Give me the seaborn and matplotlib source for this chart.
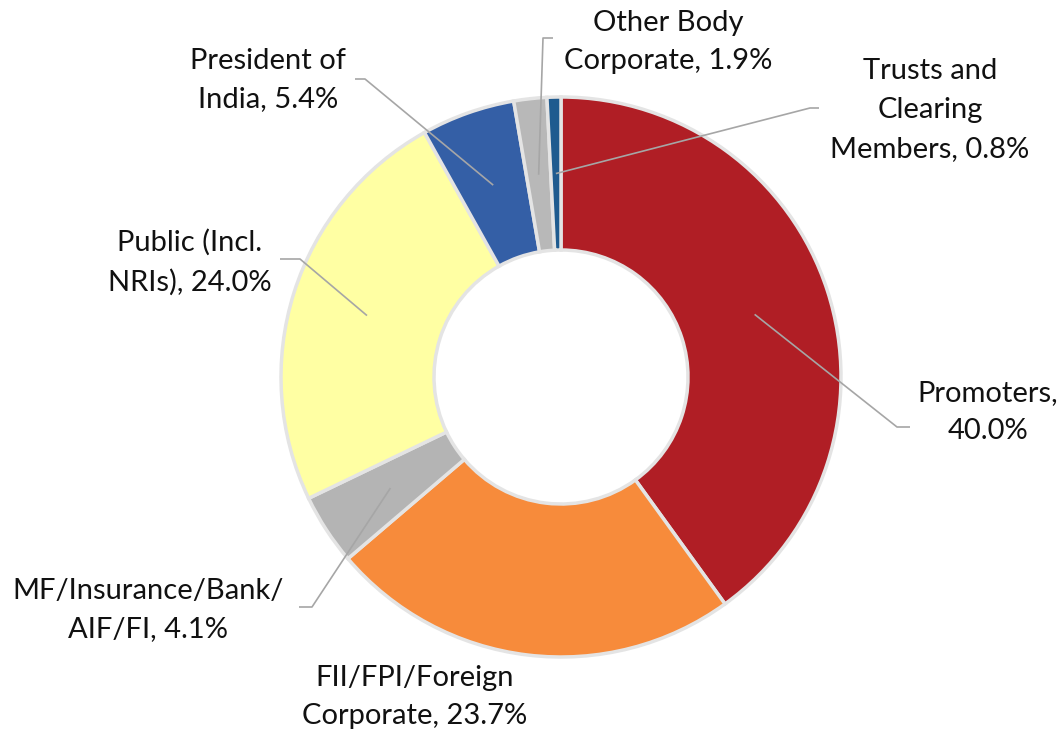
"""Shareholding pattern donut chart."""

import matplotlib

matplotlib.use("Agg")
import matplotlib.pyplot as plt
import numpy as np
import seaborn as sns

# data, clockwise from 12 o'clock
categories = [
    "Promoters",
    "FII/FPI/Foreign Corporate",
    "MF/Insurance/Bank/AIF/FI",
    "Public (Incl. NRIs)",
    "President of India",
    "Other Body Corporate",
    "Trusts and Clearing Members",
]
shares = [40.0, 23.7, 4.1, 24.0, 5.4, 1.9, 0.8]
label_text = [
    "Promoters,\n40.0%",
    "FII/FPI/Foreign\nCorporate, 23.7%",
    "MF/Insurance/Bank/\nAIF/FI, 4.1%",
    "Public (Incl.\nNRIs), 24.0%",
    "President of\nIndia, 5.4%",
    "Other Body\nCorporate, 1.9%",
    "Trusts and\nClearing\nMembers, 0.8%",
]
colors = ["#B01E25", "#F78B3B", "#B4B4B4", "#FFFFA3", "#345FA6", "#B8B8B8", "#1F5B8F"]

# layout (pixels of the 1064x732 canvas)
W, H = 1064, 732
CX, CY, R = 561, 377, 280
HOLE = 127 / 280
# label centre, leader elbow, leader end (None = no leader)
label_px = [(988, 412), (415, 697), (148, 610), (190, 262), (268, 80), (668, 42), (930, 110)]
elbow_px = [(897, 427), None, (312, 607), (300, 259), (365, 79), (543, 38), (810, 108)]
end_px = [(910, 427), None, (299, 607), (280, 259), (355, 79), (553, 38), (819, 108)]


def to_data(p):
    return (p[0] - CX) / R, (CY - p[1]) / R


sns.set_theme(style="white")
plt.rcParams["font.family"] = ["Lato", "DejaVu Sans"]

fig = plt.figure(figsize=(W / 100, H / 100), dpi=100)
ax = fig.add_axes([0, 0, 1, 1])

wedges, _ = ax.pie(
    shares,
    colors=colors,
    startangle=90,
    counterclock=False,
    radius=1.0,
    wedgeprops=dict(width=1 - HOLE, edgecolor="#E4E4E4", linewidth=2.5),
)

ax.set_xlim(-CX / R, (W - CX) / R)
ax.set_ylim(-(H - CY) / R, CY / R)
ax.set_aspect("equal", adjustable="datalim")
ax.axis("off")

mid_r = (1 + HOLE) / 2
for w, txt, lp, ep, tp in zip(wedges, label_text, label_px, elbow_px, end_px):
    ang = np.deg2rad((w.theta1 + w.theta2) / 2)
    sx, sy = mid_r * np.cos(ang), mid_r * np.sin(ang)
    if ep is not None:
        ex, ey = to_data(ep)
        tx, ty = to_data(tp)
        ax.plot([sx, ex, tx], [sy, ey, ty], color="#A6A6A6", lw=1.2, solid_capstyle="butt")
    lx, ly = to_data(lp)
    ax.text(lx, ly, txt, ha="center", va="center", fontsize=21,
            color="#111111", linespacing=1.6)

fig.savefig("out.png", dpi=100)
